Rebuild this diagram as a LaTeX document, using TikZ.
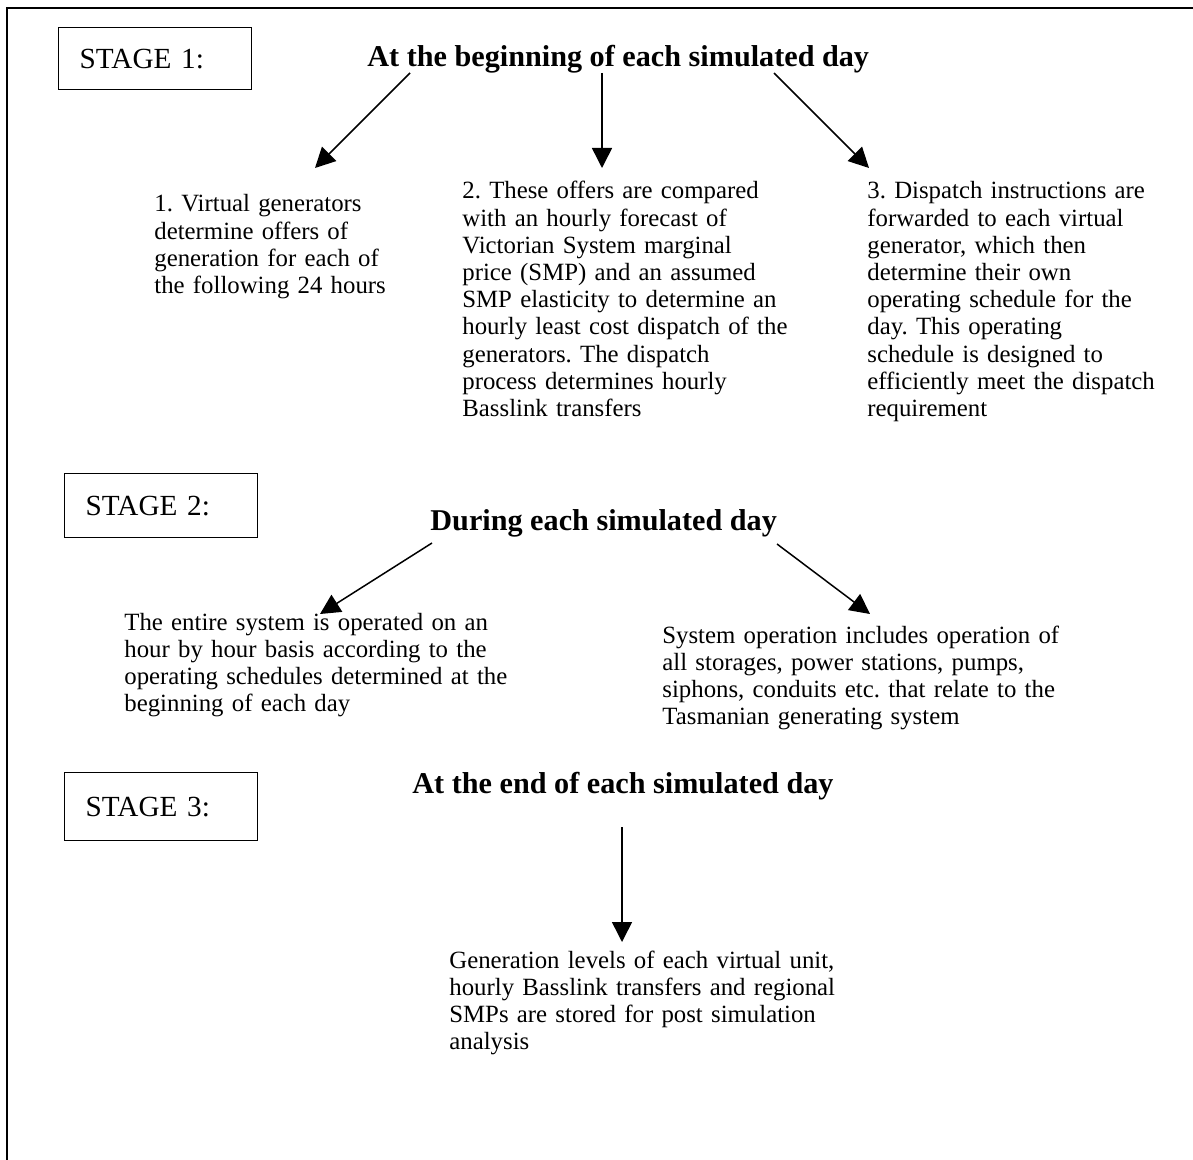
\documentclass[tikz,border=0pt]{standalone}
\usepackage{fontspec}
\setmainfont{Liberation Serif}
\usepackage{tikz}
\usetikzlibrary{arrows.meta}
\frenchspacing

\begin{document}
\begin{tikzpicture}[x=0.5pt,y=-0.5pt]
        \tikzstyle{every node}+=[inner sep=0pt]
        \tikzstyle{stagebox}=[draw, line width=0.7pt, anchor=north west, minimum width=96.5pt, inner xsep=10.5pt, text width=75.5pt, align=left, font=\fontsize{14.6pt}{17pt}\selectfont]
        \tikzstyle{heading}=[anchor=base west, font=\fontsize{15.1pt}{18pt}\selectfont\bfseries]
        \tikzstyle{body}=[anchor=base west, align=left, text width=260pt, font=\fontsize{12.4pt}{13.6pt}\selectfont]
        \tikzstyle{arr}=[line width=0.75pt, -{Triangle[length=10pt,width=10pt]}]
        \useasboundingbox (0,0) rectangle (1193,1160);
        \draw [line width=1pt] (7,1160) -- (7,8) -- (1193,8);
        \node [stagebox, minimum height=31pt] (stageone) at (58,27) {STAGE 1:};
        \node [stagebox, minimum height=32pt] (stagetwo) at (64,473) {STAGE 2:};
        \node [stagebox, minimum height=34pt] (stagethree) at (64,772) {STAGE 3:};
        \node [heading] (dayStart) at (367,67) {At the beginning of each simulated day};
        \node [heading] (dayDuring) at (430,530) {During each simulated day};
        \node [heading] (dayEnd) at (412,793) {At the end of each simulated day};
        \node [body] (offers) at (154,212) {1. Virtual generators\\determine offers of\\generation for each of\\the following 24 hours};
        \node [body] (compare) at (462,199) {2. These offers are compared\\with an hourly forecast of\\Victorian System marginal\\price (SMP) and an assumed\\SMP elasticity to determine an\\hourly least cost dispatch of the\\generators. The dispatch\\process determines hourly\\Basslink transfers};
        \node [body] (instruct) at (867,199) {3. Dispatch instructions are\\forwarded to each virtual\\generator, which then\\determine their own\\operating schedule for the\\day. This operating\\schedule is designed to\\efficiently meet the dispatch\\requirement};
        \node [body] (hourly) at (124,630) {The entire system is operated on an\\hour by hour basis according to the\\operating schedules determined at the\\beginning of each day};
        \node [body] (operation) at (662,643) {System operation includes operation of\\all storages, power stations, pumps,\\siphons, conduits etc. that relate to the\\Tasmanian generating system};
        \node [body] (stored) at (449,968) {Generation levels of each virtual unit,\\hourly Basslink transfers and regional\\SMPs are stored for post simulation\\analysis};
        \coordinate (oneA) at (410,73);
        \coordinate (oneAtip) at (315,168);
        \coordinate (oneB) at (602,73);
        \coordinate (oneBtip) at (602,168);
        \coordinate (oneC) at (774,73);
        \coordinate (oneCtip) at (869,168);
        \coordinate (twoA) at (432,543);
        \coordinate (twoAtip) at (320,614);
        \coordinate (twoB) at (777,544);
        \coordinate (twoBtip) at (870,614);
        \coordinate (threeA) at (622,827);
        \coordinate (threeAtip) at (622,942);
        \draw [arr] (oneA) -- (oneAtip);
        \draw [arr] (oneB) -- (oneBtip);
        \draw [arr] (oneC) -- (oneCtip);
        \draw [arr] (twoA) -- (twoAtip);
        \draw [arr] (twoB) -- (twoBtip);
        \draw [arr] (threeA) -- (threeAtip);
\end{tikzpicture}
\end{document}
